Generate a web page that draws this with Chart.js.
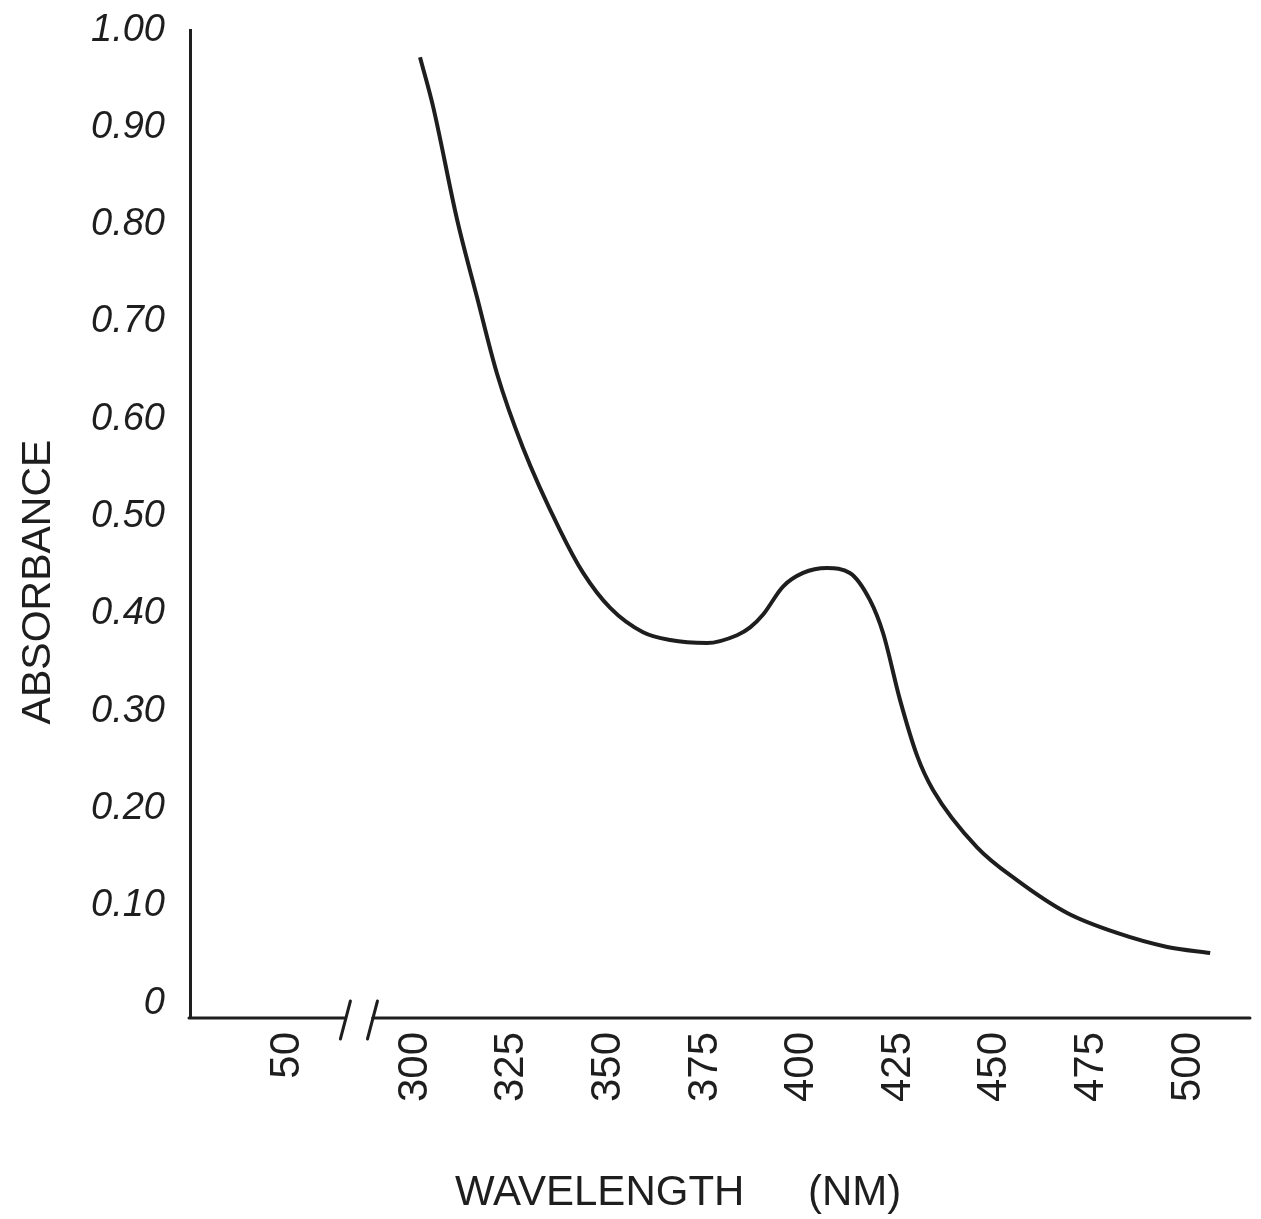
<!DOCTYPE html>
<html>
<head>
<meta charset="utf-8">
<title>Absorbance spectrum</title>
<script src="https://cdn.jsdelivr.net/npm/chart.js@4.4.0/dist/chart.umd.min.js"></script>
<style>
  html, body { margin: 0; padding: 0; background: #fff; }
  #wrap { width: 1261px; height: 1219px; position: relative; }
</style>
</head>
<body>
<div id="wrap"><canvas id="spectrum"></canvas></div>
<script>
// values
const wavelengths = [301.3, 304.7, 310.9, 316.0, 321.2, 327.9, 337.5, 343.5, 350.5, 359.0,
    366.0, 375.5, 383.3, 386.7, 390.0, 395.2, 400.4, 406.6, 412.5, 417.7, 421.1, 425.5,
    429.9, 434.0, 445.4, 455.8, 468.7, 481.6, 494.6, 505.7];
const absorbance = [0.972, 0.921, 0.805, 0.726, 0.647, 0.571, 0.486, 0.442, 0.406, 0.381,
    0.373, 0.370, 0.378, 0.386, 0.399, 0.428, 0.442, 0.447, 0.442, 0.414, 0.380, 0.311,
    0.254, 0.219, 0.160, 0.126, 0.0925, 0.072, 0.0576, 0.0514];

// the "50" tick sits left of the axis break
const xTickValues = [267.1, 300, 325, 350, 375, 400, 425, 450, 475, 500];
const xTickLabels = ['50', '300', '325', '350', '375', '400', '425', '450', '475', '500'];
const yTickValues = [0, 0.1, 0.2, 0.3, 0.4, 0.5, 0.6, 0.7, 0.8, 0.9, 1.0];
const yTickLabels = ['0', '0.10', '0.20', '0.30', '0.40', '0.50', '0.60', '0.70', '0.80', '0.90', '1.00'];
const breakFrom = 282.0;
const breakTo = 289.0;

const ink = '#1e1e1e';

const brokenAxis = {
    id: 'brokenAxis',
    afterDraw(chart) {
        const { ctx, chartArea } = chart;
        const x = chart.scales.x;
        const y0 = chartArea.bottom;
        const gapL = x.getPixelForValue(breakFrom);
        const gapR = x.getPixelForValue(breakTo);

        ctx.save();
        ctx.strokeStyle = ink;
        ctx.lineWidth = 3;
        ctx.lineCap = 'round';
        ctx.beginPath();
        ctx.moveTo(chartArea.left - 1, y0);
        ctx.lineTo(gapL, y0);
        ctx.moveTo(gapR, y0);
        ctx.lineTo(chartArea.right, y0);
        [gapL, gapR].forEach(px => {
            ctx.moveTo(px - 5, y0 + 21);
            ctx.lineTo(px + 5, y0 - 17);
        });
        ctx.stroke();

        // axis titles
        ctx.fillStyle = ink;
        ctx.font = '41px "Liberation Sans"';
        ctx.textAlign = 'center';
        ctx.textBaseline = 'alphabetic';
        ctx.save();
        ctx.translate(50, 582);
        ctx.rotate(-Math.PI / 2);
        ctx.fillText('ABSORBANCE', 0, 0);
        ctx.restore();

        ctx.font = '42px "Liberation Sans"';
        ctx.textAlign = 'left';
        ctx.fillText('WAVELENGTH', 455, 1205);
        ctx.fillText('(NM)', 808, 1205);
        ctx.restore();
    }
};

new Chart(document.getElementById('spectrum'), {
    type: 'line',
    data: {
        datasets: [{
            data: wavelengths.map((w, i) => ({ x: w, y: absorbance[i] })),
            borderColor: ink,
            borderWidth: 4,
            pointRadius: 0,
            fill: false,
            cubicInterpolationMode: 'monotone'
        }]
    },
    options: {
        responsive: true,
        maintainAspectRatio: false,
        animation: false,
        layout: { padding: { top: 30, right: 11, left: 0, bottom: 0 } },
        plugins: {
            legend: { display: false },
            tooltip: { enabled: false }
        },
        scales: {
            x: {
                type: 'linear',
                min: 241.8,
                max: 516.0,
                grid: { display: false, drawTicks: false },
                border: { display: false },
                afterBuildTicks: s => { s.ticks = xTickValues.map(v => ({ value: v })); },
                afterFit: s => { s.height = 201; s.paddingLeft = 0; s.paddingRight = 0; },
                ticks: {
                    autoSkip: false,
                    minRotation: 90,
                    maxRotation: 90,
                    padding: 14,
                    color: ink,
                    font: { family: 'Liberation Sans', size: 42 },
                    callback: (v, i) => xTickLabels[i]
                }
            },
            y: {
                min: -0.0154,
                max: 1.0,
                grid: { display: false, drawTicks: false },
                border: { display: true, color: ink, width: 3 },
                afterBuildTicks: s => { s.ticks = yTickValues.map(v => ({ value: v })); },
                afterFit: s => { s.width = 190; s.paddingTop = 0; s.paddingBottom = 0; },
                ticks: {
                    padding: 25,
                    color: ink,
                    font: { family: 'Liberation Sans', style: 'italic', size: 38 },
                    callback: (v, i) => yTickLabels[i]
                }
            }
        }
    },
    plugins: [brokenAxis]
});
</script>
</body>
</html>
